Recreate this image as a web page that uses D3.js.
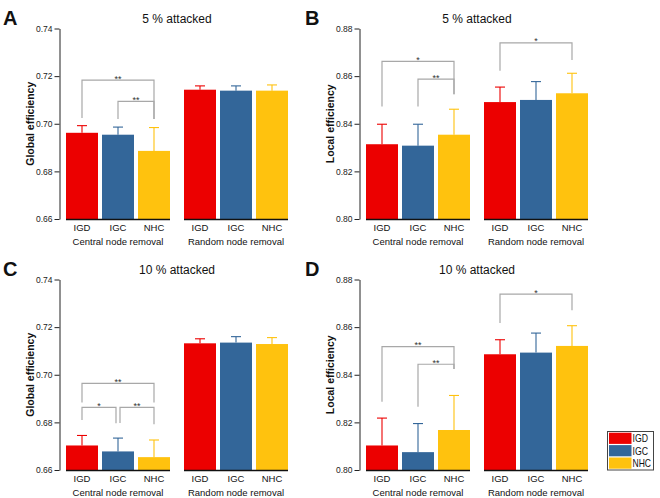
<!DOCTYPE html>
<html><head><meta charset="utf-8">
<script src="https://cdn.jsdelivr.net/npm/d3@7"></script>
<style>body{margin:0;background:#fff} svg{display:block;font-family:"Liberation Sans",Arial,sans-serif}</style>
</head><body><svg id="c" width="660" height="498"></svg>
<script>
const categories = ["IGD", "IGC", "NHC"];
const groups = ["Central node removal", "Random node removal"];
const colors = ["#ec0000", "#336699", "#ffc20e"];
const globalTicks = [0.66, 0.68, 0.70, 0.72, 0.74];
const localTicks = [0.80, 0.82, 0.84, 0.86, 0.88];

// A: global efficiency, 5 % attacked (central IGD, IGC, NHC, random IGD, IGC, NHC)
const meanA = [0.6962, 0.6954, 0.6886, 0.7143, 0.7139, 0.7139];
const errA  = [0.0030, 0.0032, 0.0098, 0.0016, 0.0020, 0.0024];
// B: local efficiency, 5 % attacked
const meanB = [0.8314, 0.8308, 0.8354, 0.8491, 0.8500, 0.8528];
const errB  = [0.0084, 0.0090, 0.0107, 0.0063, 0.0077, 0.0084];
// C: global efficiency, 10 % attacked
const meanC = [0.6703, 0.6678, 0.6654, 0.7132, 0.7135, 0.7129];
const errC  = [0.0042, 0.0056, 0.0072, 0.0019, 0.0025, 0.0027];
// D: local efficiency, 10 % attacked
const meanD = [0.8103, 0.8075, 0.8168, 0.8486, 0.8493, 0.8521];
const errD  = [0.0115, 0.0120, 0.0145, 0.0061, 0.0082, 0.0085];

// significance brackets: group, from category, to category, top level, left/right leg ends (data units)
const sigA = [
  {g: 0, a: "IGD", b: "NHC", top: 0.7183, yl: 0.7024, yr: 0.7020, label: "**"},
  {g: 0, a: "IGC", b: "NHC", top: 0.7094, yl: 0.7020, yr: 0.7020, label: "**"}
];
const sigB = [
  {g: 0, a: "IGD", b: "NHC", top: 0.8662, yl: 0.8472, yr: 0.8524, label: "*"},
  {g: 0, a: "IGC", b: "NHC", top: 0.8587, yl: 0.8472, yr: 0.8524, label: "**"},
  {g: 1, a: "IGD", b: "NHC", top: 0.8740, yl: 0.8623, yr: 0.8668, label: "*"}
];
const sigC = [
  {g: 0, a: "IGD", b: "NHC", top: 0.6964, yl: 0.6883, yr: 0.6883, label: "**"},
  {g: 0, a: "IGD", b: "IGC", top: 0.6863, yl: 0.6810, yr: 0.6796, label: "*", sb: -2},
  {g: 0, a: "IGC", b: "NHC", top: 0.6863, yl: 0.6797, yr: 0.6792, label: "**", sa: 2}
];
const sigD = [
  {g: 0, a: "IGD", b: "NHC", top: 0.8518, yl: 0.8287, yr: 0.8424, label: "**"},
  {g: 0, a: "IGC", b: "NHC", top: 0.8444, yl: 0.8266, yr: 0.8424, label: "**"},
  {g: 1, a: "IGD", b: "NHC", top: 0.8739, yl: 0.8617, yr: 0.8671, label: "*"}
];

const svg = d3.select("#c");
svg.append("rect").attr("width", 660).attr("height", 498).attr("fill", "#fff");

function drawPanel(ox, oy, letter, lx, title, ylabel, ticks, means, errs, sigs) {
  const g = svg.append("g").attr("transform", `translate(${ox},${oy})`);
  const domain = [ticks[0], ticks[ticks.length - 1]];
  const y = d3.scaleLinear().domain(domain).range([219, 28.5]);
  const xg = d3.scaleBand().domain(groups).range([66, 288]).paddingInner(14 / 118);
  const xc = d3.scaleBand().domain(categories).range([0, xg.bandwidth()]).paddingInner(4 / 36);
  const cx = (gi, c) => xg(groups[gi]) + xc(c) + xc.bandwidth() / 2;

  const rows = means.map((m, i) => ({gi: Math.floor(i / 3), c: categories[i % 3], m, e: errs[i], col: colors[i % 3]}));

  // error bars
  rows.forEach(r => {
    const x = cx(r.gi, r.c);
    g.append("line").attr("x1", x).attr("x2", x).attr("y1", y(r.m)).attr("y2", y(r.m + r.e))
      .attr("stroke", r.col).attr("stroke-width", 1.1);
    g.append("line").attr("x1", x - 5).attr("x2", x + 5).attr("y1", y(r.m + r.e)).attr("y2", y(r.m + r.e))
      .attr("stroke", r.col).attr("stroke-width", 1.1);
  });
  // bars
  g.selectAll("rect.bar").data(rows).join("rect").attr("class", "bar")
    .attr("x", d => xg(groups[d.gi]) + xc(d.c))
    .attr("y", d => y(d.m))
    .attr("width", xc.bandwidth())
    .attr("height", d => y(domain[0]) - y(d.m))
    .attr("fill", d => d.col);

  // baseline under each group
  groups.forEach(gr => {
    g.append("line").attr("x1", xg(gr)).attr("x2", xg(gr) + xg.bandwidth())
      .attr("y1", y(domain[0]) + 0.5).attr("y2", y(domain[0]) + 0.5)
      .attr("stroke", "#111").attr("stroke-width", 1.3);
  });

  // y axis
  const ax = g.append("g").attr("transform", "translate(59.5,0)")
    .call(d3.axisLeft(y).tickValues(ticks).tickFormat(d3.format(".2f")).tickSize(5).tickSizeOuter(0));
  ax.select(".domain").attr("stroke", "#222").attr("stroke-width", 1);
  ax.selectAll(".tick line").attr("stroke", "#222");
  ax.selectAll(".tick text").attr("font-size", 8.5).attr("fill", "#222").attr("x", -7)
    .attr("font-family", "'Liberation Sans', Arial, sans-serif");

  // category labels
  rows.forEach(r => {
    g.append("text").attr("x", cx(r.gi, r.c)).attr("y", 231).attr("text-anchor", "middle")
      .attr("font-size", 9.5).attr("fill", "#111").text(r.c);
  });
  groups.forEach(gr => {
    g.append("text").attr("x", xg(gr) + xg.bandwidth() / 2).attr("y", 244.5).attr("text-anchor", "middle")
      .attr("font-size", 9.5).attr("fill", "#111").text(gr);
  });

  // significance brackets
  sigs.forEach(s => {
    const xa = cx(s.g, s.a) + (s.sa || 0);
    const xb = cx(s.g, s.b) + (s.sb || 0);
    g.append("path")
      .attr("d", `M${xa},${y(s.yl)}V${y(s.top)}H${xb}V${y(s.yr)}`)
      .attr("fill", "none").attr("stroke", "#a8a8a8").attr("stroke-width", 1.2);
    g.append("text").attr("x", (xa + xb) / 2).attr("y", y(s.top) + 1.5).attr("text-anchor", "middle")
      .attr("font-size", 9).attr("fill", "#333").text(s.label);
  });

  // titles
  g.append("text").attr("x", 177).attr("y", 23).attr("text-anchor", "middle")
    .attr("font-size", 12).attr("fill", "#111").text(title);
  g.append("text").attr("x", lx).attr("y", 24.5).attr("font-size", 20).attr("font-weight", "bold")
    .attr("fill", "#111").text(letter);
  g.append("text").attr("transform", `translate(33.5,${(y(domain[0]) + y(domain[1])) / 2}) rotate(-90)`)
    .attr("text-anchor", "middle").attr("font-size", 10.5).attr("font-weight", "bold")
    .attr("fill", "#111").text(ylabel);
}

drawPanel(0, 0, "A", 3, "5 % attacked", "Global efficiency", globalTicks, meanA, errA, sigA);
drawPanel(300, 0, "B", 5, "5 % attacked", "Local efficiency", localTicks, meanB, errB, sigB);
drawPanel(0, 251, "C", 3, "10 % attacked", "Global efficiency", globalTicks, meanC, errC, sigC);
drawPanel(300, 251, "D", 5, "10 % attacked", "Local efficiency", localTicks, meanD, errD, sigD);

// legend
const lg = svg.append("g").attr("transform", "translate(607.5,431.5)");
lg.append("rect").attr("width", 46).attr("height", 38.5).attr("fill", "#fff").attr("stroke", "#444").attr("stroke-width", 1);
const legendWidths = [15.5, 15.5, 18.5];
categories.forEach((c, i) => {
  lg.append("rect").attr("x", 1.5).attr("y", 1.2 + i * 12.4).attr("width", 22.5).attr("height", 11.2).attr("fill", colors[i]);
  lg.append("text").attr("x", 25).attr("y", 10.8 + i * 12.4).attr("font-size", 10.5).attr("fill", "#111")
    .attr("textLength", legendWidths[i]).attr("lengthAdjust", "spacingAndGlyphs").text(c);
});
</script>
</body></html>
